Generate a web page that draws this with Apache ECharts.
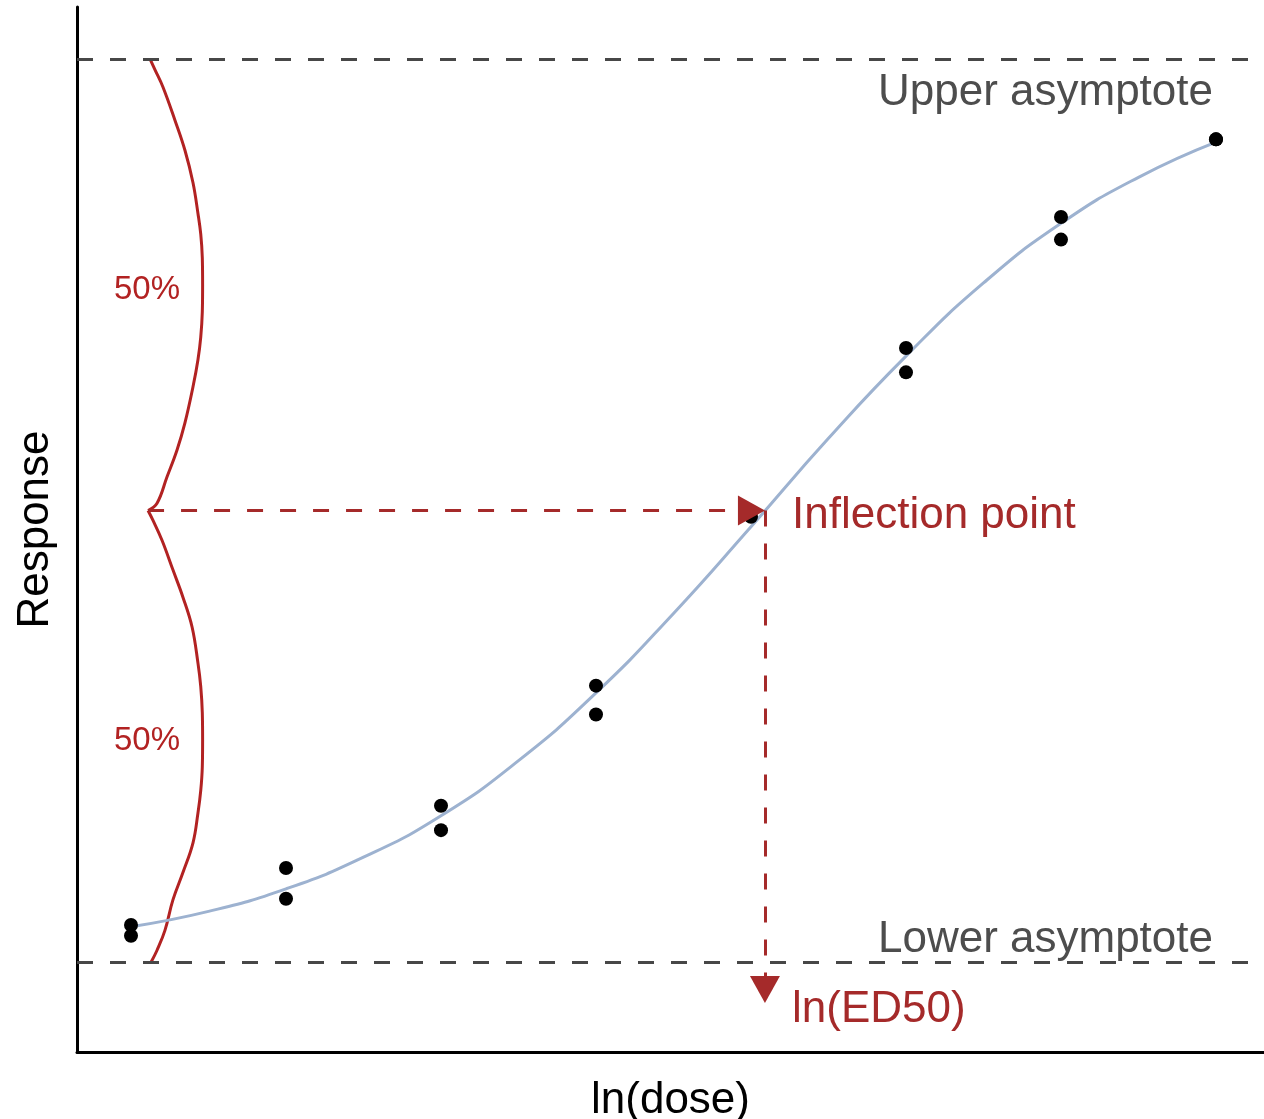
<!DOCTYPE html>
<html><head><meta charset="utf-8">
<script src="https://cdn.jsdelivr.net/npm/echarts@6/dist/echarts.min.js"></script>
<style>html,body{margin:0;padding:0;background:#fff}#c{width:1264px;height:1119px}</style>
</head><body><div id="c"></div>
<script>
// ---- data ----
const doseLevels = [0, 1, 2, 3, 4, 5, 6, 7];             // ln(dose)
const responseRep1 = [0.041, 0.104, 0.173, 0.306, 0.499, 0.680, 0.825, 0.911];
const responseRep2 = [0.029, 0.070, 0.146, 0.274, 0.493, 0.653, 0.800, 0.911];
const fitX = [0, 0.5, 1, 1.5, 2, 2.5, 3, 3.5, 4, 4.5, 5, 5.5, 6, 6.5, 7];
const fitY = [0.039, 0.056, 0.081, 0.116, 0.162, 0.223, 0.298, 0.386, 0.482, 0.580, 0.671, 0.752, 0.818, 0.869, 0.908];
const upperHalfX = [0.123, 0.155, 0.206, 0.284, 0.348, 0.400, 0.432, 0.450, 0.460, 0.462, 0.460, 0.450, 0.432, 0.400, 0.348, 0.297, 0.232, 0.168, 0.110];
const upperHalfY = [1.000, 0.988, 0.969, 0.932, 0.899, 0.863, 0.829, 0.806, 0.780, 0.750, 0.720, 0.692, 0.667, 0.637, 0.597, 0.567, 0.537, 0.508, 0.500];
const lowerHalfX = [0.110, 0.142, 0.200, 0.271, 0.335, 0.394, 0.432, 0.450, 0.460, 0.462, 0.460, 0.450, 0.432, 0.400, 0.335, 0.271, 0.219, 0.168, 0.130];
const lowerHalfY = [0.500, 0.489, 0.467, 0.434, 0.404, 0.371, 0.331, 0.305, 0.276, 0.246, 0.216, 0.190, 0.165, 0.132, 0.099, 0.069, 0.035, 0.013, 0.000];
const lowerAsymptote = 0;
const upperAsymptote = 1;
const ed50 = 4.09;
const inflectionResponse = 0.5;
const bracketStartX = 0.11;
const xRange = [-0.3484, 7.3097];
const yRange = [-0.0997, 1.0576];

// ---- build ----
const GRID = {left: 77, right: 0, top: 7, bottom: 67};
const plotW = 1264 - GRID.left - GRID.right;
const plotH = 1119 - GRID.top - GRID.bottom;
const xPerPx = (xRange[1] - xRange[0]) / plotW;
const yPerPx = (yRange[1] - yRange[0]) / plotH;
const ARROW_LEN = 27, ARROW_W = 30;
const half = ARROW_LEN / 2;

const pts = [];
doseLevels.forEach((d, i) => { pts.push([d, responseRep1[i]]); pts.push([d, responseRep2[i]]); });
const fit = fitX.map((x, i) => [x, fitY[i]]);
const upHalf = upperHalfX.map((x, i) => [x, upperHalfY[i]]);
const lowHalf = lowerHalfX.map((x, i) => [x, lowerHalfY[i]]);

const RED = '#B22222';
const ARROW = '#A52A2A';
const GREY = '#474747';
const FONT = '"Liberation Sans", Arial, sans-serif';

const chart = echarts.init(document.getElementById('c'), null, {renderer: 'canvas'});
chart.setOption({
  animation: false,
  backgroundColor: '#fff',
  grid: Object.assign({containLabel: false, outerBoundsMode: 'none'}, GRID),
  xAxis: {
    type: 'value', min: xRange[0], max: xRange[1],
    name: 'ln(dose)', nameLocation: 'middle', nameGap: 27,
    nameTextStyle: {fontFamily: FONT, fontSize: 44, color: '#000'},
    axisLine: {show: true, onZero: false, lineStyle: {color: '#000', width: 3}},
    axisTick: {show: false}, axisLabel: {show: false}, splitLine: {show: false}
  },
  yAxis: {
    type: 'value', min: yRange[0], max: yRange[1],
    name: 'Response', nameLocation: 'middle', nameGap: 19,
    nameTextStyle: {fontFamily: FONT, fontSize: 44, color: '#000'},
    axisLine: {show: true, onZero: false, lineStyle: {color: '#000', width: 3}},
    axisTick: {show: false}, axisLabel: {show: false}, splitLine: {show: false}
  },
  series: [
    {
      type: 'line', data: [], z: 1, silent: true,
      markLine: {
        silent: true, symbol: ['none', 'none'], label: {show: false},
        lineStyle: {color: GREY, width: 3, type: [16, 17]},
        data: [{yAxis: upperAsymptote}, {yAxis: lowerAsymptote}]
      }
    },
    {type: 'line', data: upHalf, z: 2, smooth: 0.4, showSymbol: false,
     lineStyle: {color: RED, width: 3}},
    {type: 'line', data: lowHalf, z: 2, smooth: 0.4, showSymbol: false,
     lineStyle: {color: RED, width: 3}},
    {type: 'line', data: fit, z: 3, smooth: true, showSymbol: false,
     lineStyle: {color: '#9DB2D0', width: 3}},
    {type: 'scatter', data: pts, z: 4, symbolSize: 14, itemStyle: {color: '#000', opacity: 1}},
    {
      type: 'line', data: [], z: 5, silent: true,
      markLine: {
        silent: true, symbol: ['none', 'triangle'], symbolSize: [ARROW_W, ARROW_LEN],
        label: {show: false},
        lineStyle: {color: ARROW, width: 3, type: [16, 17]},
        itemStyle: {color: ARROW},
        data: [
          [{coord: [bracketStartX, inflectionResponse]}, {coord: [ed50 - half * xPerPx, inflectionResponse]}],
          [{coord: [ed50, inflectionResponse]}, {coord: [ed50, lowerAsymptote - (41 - half) * yPerPx]}]
        ]
      }
    }
  ],
  graphic: [
    {type: 'text', x: 1213, y: 93, style: {text: 'Upper asymptote', font: '44px ' + FONT, fill: '#4D4D4D', align: 'right', verticalAlign: 'middle'}},
    {type: 'text', x: 1213, y: 940, style: {text: 'Lower asymptote', font: '44px ' + FONT, fill: '#4D4D4D', align: 'right', verticalAlign: 'middle'}},
    {type: 'text', x: 792, y: 516, style: {text: 'Inflection point', font: '44px ' + FONT, fill: ARROW, align: 'left', verticalAlign: 'middle'}},
    {type: 'text', x: 792, y: 1010, style: {text: 'ln(ED50)', font: '44px ' + FONT, fill: ARROW, align: 'left', verticalAlign: 'middle'}},
    {type: 'text', x: 147, y: 290, style: {text: '50%', font: '33px ' + FONT, fill: RED, align: 'center', verticalAlign: 'middle'}},
    {type: 'text', x: 147, y: 741, style: {text: '50%', font: '33px ' + FONT, fill: RED, align: 'center', verticalAlign: 'middle'}}
  ]
});
</script></body></html>
